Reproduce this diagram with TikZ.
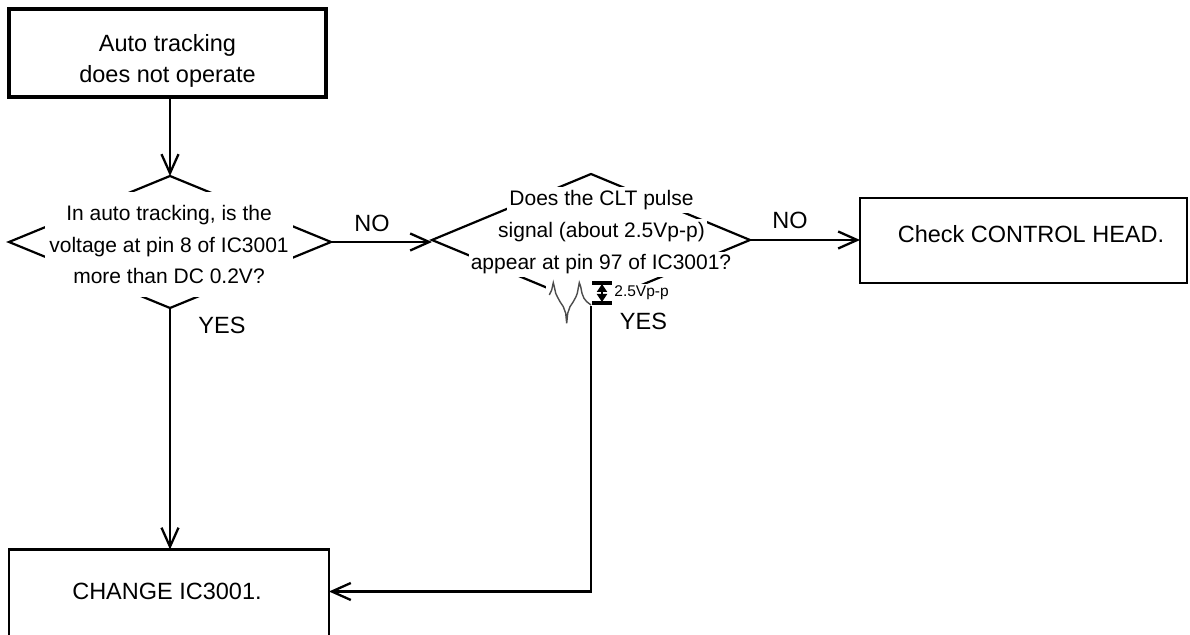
\documentclass[tikz,border=0pt]{standalone}
\usepackage{fontspec}
\setmainfont{Liberation Sans}
\usetikzlibrary{arrows.meta,shapes.geometric}
\newcommand{\bigtxt}{\fontsize{11.75}{14.2}\selectfont}
\newcommand{\asktxt}{\fontsize{10.5}{16}\selectfont}
\newcommand{\tinytxt}{\fontsize{7.75}{9}\selectfont}
\tikzset{>={Straight Barb[length=9.5pt,width=8.5pt]},every node/.style={font=\bigtxt},
  flow/.style={line width=1.15pt,->},box/.style={draw,line width=1.15pt,inner sep=0,outer sep=0},
  ask/.style={diamond,draw,line width=1.1pt,inner sep=0,outer sep=0,minimum height=66pt},
  qline/.style={fill=white,font=\asktxt,inner xsep=1pt,inner ysep=1.5pt}}

\begin{document}
\begin{tikzpicture}[x=0.5pt,y=-0.5pt]
\useasboundingbox (0,0) rectangle (1190,635);
% start box
\node[box,line width=2.2pt,minimum width=158.5pt,minimum height=44pt] (start) at (167.5,53) {};
\node[align=center,font=\fontsize{11.75}{15.8}\selectfont] (starttxt) at (167.5,61) {Auto tracking\\does not operate};
% questions
\node[ask,minimum width=161pt] (q1) at (170,242) {};
\node[qline,align=center,inner xsep=2pt,inner ysep=6.5pt] (q1txt) at (169,244.5) {In auto tracking, is the\\voltage at pin 8 of IC3001\\more than DC 0.2V?};
\node[ask,minimum width=159pt] (q2) at (591,240) {};
\node[qline,anchor=base] (q2a) at (601.5,205.7) {Does the CLT pulse};
\node[qline,anchor=base] (q2b) at (601.5,237.7) {signal (about 2.5Vp-p)};
\node[qline,anchor=base] (q2c) at (601,270) {appear at pin 97 of IC3001?};

% pulse sketch
\fill[white] (546,281) rectangle (612,324);
\begin{scope}[shift={(550,297)}]
\draw[black!70,line width=0.7pt] (-0.7,-2)--(1.7,-7)--(3.3,-14.3)--(4.3,-10.3)--(5.7,-3.7)--(7.3,-0.3)--(10,4.7)--(13.3,9.7)--(15.7,16.3)--(16.7,26.3)--(17.7,16.3)--(20,9.7)--(23.3,4.7)--(26,-0.3)--(27.3,-3.7)--(29.3,-14.3)--(30.7,-10.3)--(32,-3.7)--(34,1.3)--(36.7,4.7)--(41,8);
\end{scope}
\draw[line width=1.6pt] (592,283)--(612,283) (592,303)--(612,303);
\draw[line width=1.2pt,{Triangle[length=4pt,width=5pt]}-{Triangle[length=4pt,width=5pt]}] (602,284)--(602,302);
\node[font=\tinytxt,anchor=base west,fill=white,inner sep=1pt] (pp) at (612,296.7) {2.5Vp-p};

% results
\node[box,minimum width=163.5pt,minimum height=42.5pt] (check) at (1023.5,240.5) {};
\node (checktxt) at (1031,234) {Check CONTROL HEAD.};
\node[box,anchor=north,minimum width=160pt,minimum height=45pt] (fix) at (169,549.5) {};
\node (fixtxt) at (167,591.5) {CHANGE IC3001.};

\draw[flow] (start.south -| q1.north) -- (q1.north);
\draw[flow] (q1.east) -- (q1.east -| q2.west);
\draw[flow] (q2.east) -- (q2.east -| check.west);
\draw[flow] (q1.south) -- (q1.south |- fix.north);
\draw[flow] (q2.south) |- (fix.east |- fixtxt);
\node (no1) at (372,223.5) {NO}; \node (no2) at (790,220) {NO};
\node (yes1) at (222,325) {YES}; \node (yes2) at (643.5,321.5) {YES};
\end{tikzpicture}
\end{document}
